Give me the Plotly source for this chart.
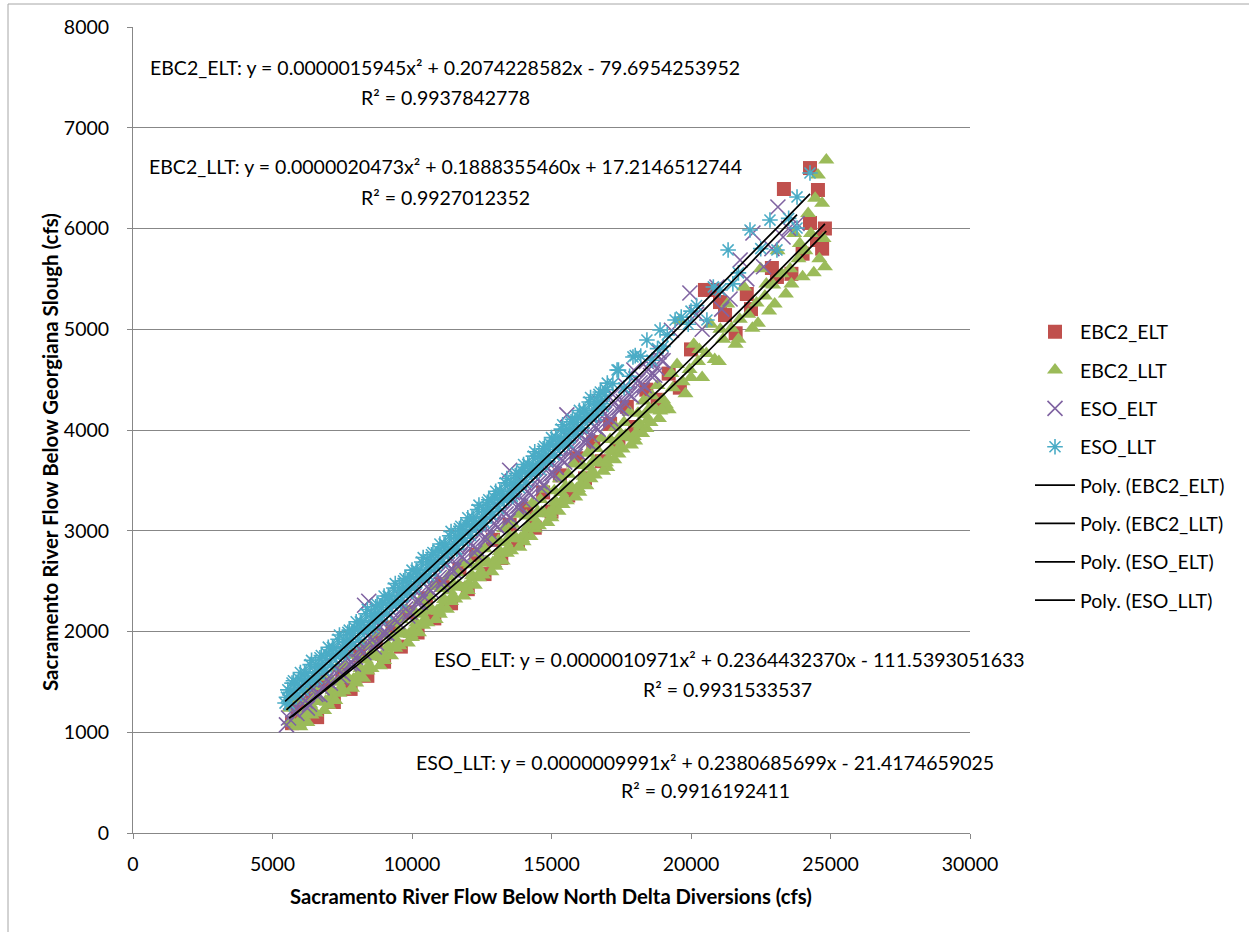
import numpy as np
import plotly.graph_objects as go

# ---------------- data ----------------
EBC2_ELT_POINTS = [
    (5700, 1090), (5900, 1230), (6100, 1160), (6400, 1370), (6600, 1150), (6900, 1480),
    (7200, 1300), (7500, 1600), (7800, 1430), (8100, 1760), (8400, 1560), (8700, 1900),
    (9000, 1700), (9300, 2040), (9600, 1850), (9900, 2190), (10200, 1990), (10500, 2330),
    (10800, 2130), (11100, 2470), (11400, 2280), (11700, 2620), (12000, 2420), (12300, 2760),
    (12600, 2570), (12900, 2910), (13200, 2730), (13500, 3060), (13800, 2880), (14100, 3220),
    (14400, 3030), (14700, 3380), (15000, 3190), (15300, 3550), (15600, 3350), (15900, 3720),
    (16200, 3520), (16500, 3880), (16800, 3690), (17100, 4060), (17400, 3860), (17700, 4230),
    (18000, 4030), (18400, 4400), (18800, 4300), (19200, 4560), (19600, 4420), (20000, 4800),
    (20500, 5390), (20790, 5390), (21040, 5270), (21220, 5141), (21600, 4960), (22000, 5350),
    (22150, 5200), (22900, 5608), (23080, 5519), (23330, 6392), (23600, 5550), (24000, 5750),
    (24265, 6600), (24265, 6055), (24516, 5886), (24550, 6382), (24700, 5800), (24800, 6000),
]

EBC2_LLT_POINTS = [
    (5600, 1239), (5700, 1100), (5800, 1331), (5900, 1093),
    (6000, 1054), (6100, 1305), (6200, 1177), (6300, 1418), (6400, 1170), (6500, 1332),
    (6600, 1453), (6700, 1315), (6800, 1546), (6900, 1308),
    (7000, 1269), (7100, 1521), (7200, 1393), (7300, 1635), (7400, 1387), (7500, 1549),
    (7600, 1671), (7700, 1533), (7800, 1765), (7900, 1527),
    (8000, 1489), (8100, 1741), (8200, 1614), (8300, 1856), (8400, 1609), (8500, 1771),
    (8600, 1893), (8700, 1756), (8800, 1988), (8900, 1751),
    (9000, 1713), (9100, 1965), (9200, 1838), (9300, 2081), (9400, 1834), (9500, 1997),
    (9600, 2119), (9700, 1982), (9800, 2215), (9900, 1978),
    (10000, 1940), (10100, 2193), (10200, 2067), (10300, 2310), (10400, 2063), (10500, 2226),
    (10600, 2350), (10700, 2213), (10800, 2446), (10900, 2209),
    (11000, 2172), (11100, 2426), (11200, 2299), (11300, 2543), (11400, 2297), (11500, 2460),
    (11600, 2584), (11700, 2447), (11800, 2681), (11900, 2445),
    (12000, 2408), (12100, 2662), (12200, 2536), (12300, 2780), (12400, 2534), (12500, 2698),
    (12600, 2822), (12700, 2686), (12800, 2920), (12900, 2684),
    (13000, 2648), (13100, 2902), (13200, 2777), (13300, 3021), (13400, 2776), (13500, 2940),
    (13600, 3065), (13700, 2929), (13800, 3163), (13900, 2928),
    (14000, 2892), (14100, 3147), (14200, 3022), (14300, 3267), (14400, 3021), (14500, 3186),
    (14600, 3311), (14700, 3176), (14800, 3411), (14900, 3175),
    (15000, 3130), (15100, 3396), (15200, 3271), (15300, 3516), (15400, 3261), (15500, 3436),
    (15600, 3562), (15700, 3427), (15800, 3662), (15900, 3417),
    (16000, 3383), (16100, 3648), (16200, 3524), (16300, 3770), (16400, 3515), (16500, 3691),
    (16600, 3816), (16700, 3682), (16800, 3918), (16900, 3673),
    (17000, 3629), (17100, 3905), (17200, 3781), (17300, 4027), (17400, 3763), (17500, 3949),
    (17600, 4075), (17700, 3941), (17800, 4177), (17900, 3923),
    (18000, 3890), (18100, 4166), (18200, 4043), (18300, 4289), (18400, 4016), (18500, 4212),
    (18600, 4339), (18700, 4205), (18800, 4442), (18900, 4188),
    (19000, 4300), (19100, 4250), (19200, 4200), (19300, 4560), (19350, 4420), (19500, 4650),
    (19600, 5090), (19700, 4480), (19800, 4360), (19950, 4600), (20000, 4520), (20100, 4850),
    (20250, 4680), (20300, 4800), (20400, 4520), (20550, 4760), (20700, 5050), (20850, 4700),
    (21000, 4680), (21050, 5000), (21150, 4900), (21300, 5250), (21450, 5010), (21600, 4850),
    (21700, 4900), (21750, 5100), (21900, 5420), (22050, 5150), (22200, 5010), (22350, 5260),
    (22400, 5060), (22500, 5600), (22650, 5330), (22700, 5450), (22800, 5180), (22950, 5440),
    (23000, 5250), (23100, 5780), (23250, 5550), (23400, 5350), (23550, 5600), (23600, 5450),
    (23700, 5950), (23850, 5700), (23900, 5850), (24000, 5520), (24100, 5780), (24200, 6150),
    (24300, 5950), (24400, 5560), (24450, 6300), (24550, 6530), (24600, 5700), (24700, 6250),
    (24750, 5900), (24800, 5620), (24850, 6680),
    # lower edge of the green band
    (5650, 1110), (5750, 1091), (5850, 1060), (5950, 1083),
    (6050, 1115), (6150, 1196), (6250, 1098), (6350, 1279), (6450, 1221), (6550, 1192),
    (6650, 1324), (6750, 1305), (6850, 1217), (6950, 1298),
    (7050, 1330), (7150, 1412), (7250, 1314), (7350, 1496), (7450, 1438), (7550, 1410),
    (7650, 1542), (7750, 1524), (7850, 1436), (7950, 1518),
    (8050, 1550), (8150, 1633), (8250, 1535), (8350, 1717), (8450, 1660), (8550, 1632),
    (8650, 1765), (8750, 1747), (8850, 1659), (8950, 1742),
    (9050, 1774), (9150, 1857), (9250, 1760), (9350, 1942), (9450, 1885), (9550, 1858),
    (9650, 1991), (9750, 1974), (9850, 1886), (9950, 1969),
    (10050, 2002), (10150, 2085), (10250, 1988), (10350, 2172), (10450, 2115), (10550, 2088),
    (10650, 2221), (10750, 2204), (10850, 2118), (10950, 2201),
    (11050, 2234), (11150, 2318), (11250, 2221), (11350, 2405), (11450, 2348), (11550, 2322),
    (11650, 2456), (11750, 2439), (11850, 2353), (11950, 2436),
    (12050, 2470), (12150, 2554), (12250, 2458), (12350, 2642), (12450, 2586), (12550, 2560),
    (12650, 2694), (12750, 2678), (12850, 2592), (12950, 2676),
    (13050, 2710), (13150, 2795), (13250, 2699), (13350, 2884), (13450, 2828), (13550, 2802),
    (13650, 2937), (13750, 2921), (13850, 2836), (13950, 2920),
    (14050, 2955), (14150, 3039), (14250, 2944), (14350, 3129), (14450, 3074), (14550, 3049),
    (14650, 3183), (14750, 3168), (14850, 3083), (14950, 3168),
    (15050, 3203), (15150, 3288), (15250, 3193), (15350, 3379), (15450, 3324), (15550, 3299),
    (15650, 3434), (15750, 3419), (15850, 3335), (15950, 3420),
    (16050, 3456), (16150, 3541), (16250, 3447), (16350, 3632), (16450, 3578), (16550, 3554),
    (16650, 3689), (16750, 3675), (16850, 3590), (16950, 3676),
    (17050, 3712), (17150, 3798), (17250, 3704), (17350, 3890), (17450, 3836), (17550, 3812),
    (17650, 3948), (17750, 3934), (17850, 3850), (17950, 3936),
    (18050, 3973), (18150, 4059), (18250, 3966), (18350, 4152), (18450, 4099), (18550, 4075),
    (18650, 4212), (18750, 4198), (18850, 4115), (18950, 4201),
]

ESO_ELT_POINTS = [
    (5500, 1073), (5650, 1300), (5800, 1207), (5950, 1445), (6100, 1332), (6250, 1240),
    (6400, 1517), (6550, 1375), (6700, 1372), (6850, 1600), (7000, 1507), (7150, 1745),
    (7300, 1633), (7450, 1541), (7600, 1819), (7750, 1677), (7900, 1675), (8050, 1903),
    (8200, 1811), (8300, 2260), (8350, 2050), (8450, 2300), (8500, 1938), (8650, 1846),
    (8800, 2124), (8950, 1983), (9100, 1981), (9250, 2210), (9400, 2118), (9550, 2357),
    (9700, 2245), (9850, 2154), (10000, 2433), (10150, 2291), (10300, 2290), (10450, 2518),
    (10600, 2427), (10750, 2666), (10900, 2556), (11050, 2465), (11200, 2744), (11350, 2603),
    (11500, 2602), (11650, 2831), (11800, 2740), (11950, 2981), (12100, 2870), (12250, 2779),
    (12400, 3059), (12550, 2918), (12700, 2918), (12850, 3147), (13000, 3058), (13150, 3297),
    (13300, 3187), (13450, 3097), (13500, 3600), (13600, 3376), (13750, 3236), (13900, 3236),
    (14050, 3467), (14200, 3377), (14350, 3617), (14500, 3507), (14650, 3417), (14800, 3698),
    (14950, 3558), (15100, 3559), (15250, 3789), (15400, 3699), (15550, 3939), (15550, 4150),
    (15700, 3830), (15850, 3740), (16000, 4023), (16150, 3883), (16300, 3884), (16450, 4114),
    (16600, 4025), (16750, 4266), (16900, 4157), (17050, 4069), (17200, 4350), (17350, 4211),
    (17500, 4212), (17650, 4442), (17800, 4354), (17950, 4596), (18100, 4488), (18250, 4399),
    (18400, 4680), (18550, 4541), (18700, 4543), (18850, 4775), (19000, 4687),
    (19300, 4990), (19960, 5360), (20200, 5150), (20400, 5000), (20930, 5419), (21100, 5200),
    (21400, 5300), (21760, 5687), (22000, 5500), (22220, 5955), (22600, 5620), (22900, 5800),
    (23115, 6213), (23300, 5916), (23500, 6000), (23800, 6050),
    # lower side of the purple band
    (5575, 1141), (5725, 1219), (5875, 1186), (6025, 1353), (6175, 1311), (6325, 1278),
    (6475, 1436), (6625, 1384), (6775, 1441), (6925, 1519), (7075, 1486), (7225, 1654),
    (7375, 1612), (7525, 1580), (7675, 1738), (7825, 1686), (7975, 1744), (8125, 1822),
    (8275, 1790), (8425, 1959), (8575, 1917), (8725, 1885), (8875, 2043), (9025, 1992),
    (9175, 2050), (9325, 2129), (9475, 2097), (9625, 2266), (9775, 2225), (9925, 2193),
    (10075, 2352), (10225, 2301), (10375, 2360), (10525, 2439), (10675, 2408), (10825, 2577),
    (10975, 2536), (11125, 2505), (11275, 2664), (11425, 2614), (11575, 2673), (11725, 2752),
    (11875, 2722), (12025, 2890), (12175, 2850), (12325, 2820), (12475, 2979), (12625, 2929),
    (12775, 2988), (12925, 3068), (13075, 3038), (13225, 3208), (13375, 3168), (13525, 3137),
    (13675, 3297), (13825, 3247), (13975, 3307), (14125, 3387), (14275, 3357), (14425, 3528),
    (14575, 3488), (14725, 3458), (14875, 3618), (15025, 3569), (15175, 3629), (15325, 3710),
    (15475, 3681), (15625, 3851), (15775, 3812), (15925, 3783), (16075, 3943), (16225, 3894),
    (16375, 3955), (16525, 4036), (16675, 4007), (16825, 4178), (16975, 4139), (17125, 4110),
    (17275, 4271), (17425, 4222), (17575, 4283), (17725, 4365), (17875, 4336), (18025, 4507),
    (18175, 4469), (18325, 4440), (18475, 4602), (18625, 4553), (18775, 4615), (18925, 4696),
]

ESO_LLT_POINTS = [
    (5450, 1290), (5500, 1348), (5600, 1283), (5700, 1488), (5800, 1393), (5900, 1478),
    (6000, 1593), (6100, 1418), (6200, 1583), (6300, 1498), (6400, 1713), (6500, 1599),
    (6600, 1534), (6700, 1739), (6800, 1644), (6900, 1729),
    (7000, 1844), (7100, 1669), (7200, 1835), (7300, 1750), (7400, 1965), (7500, 1851),
    (7600, 1786), (7700, 1991), (7800, 1897), (7900, 1982),
    (8000, 2097), (8100, 1923), (8200, 2088), (8300, 2004), (8400, 2219), (8500, 2105),
    (8600, 2040), (8700, 2246), (8800, 2151), (8900, 2237),
    (9000, 2352), (9100, 2178), (9200, 2343), (9300, 2259), (9400, 2475), (9500, 2361),
    (9600, 2296), (9700, 2502), (9800, 2408), (9900, 2493),
    (10000, 2609), (10100, 2435), (10200, 2601), (10300, 2517), (10400, 2733), (10500, 2619),
    (10600, 2555), (10700, 2761), (10800, 2666), (10900, 2752),
    (11000, 2868), (11100, 2694), (11200, 2860), (11300, 2777), (11400, 2993), (11500, 2879),
    (11600, 2815), (11700, 3021), (11800, 2927), (11900, 3013),
    (12000, 3129), (12100, 2955), (12200, 3122), (12300, 3038), (12400, 3254), (12500, 3141),
    (12600, 3077), (12700, 3283), (12800, 3190), (12900, 3276),
    (13000, 3392), (13100, 3219), (13200, 3385), (13300, 3302), (13400, 3518), (13500, 3405),
    (13600, 3341), (13700, 3548), (13800, 3454), (13900, 3541),
    (14000, 3657), (14100, 3484), (14200, 3651), (14300, 3567), (14400, 3784), (14500, 3671),
    (14600, 3608), (14700, 3814), (14800, 3721), (14900, 3808),
    (15000, 3924), (15100, 3751), (15200, 3918), (15300, 3835), (15400, 4052), (15500, 3939),
    (15600, 3875), (15700, 4082), (15800, 3989), (15900, 4076),
    (16000, 4194), (16100, 4021), (16200, 4188), (16300, 4105), (16400, 4322), (16500, 4209),
    (16600, 4146), (16700, 4353), (16800, 4260), (16900, 4347),
    (17000, 4465), (17200, 4460), (17350, 4596), (17400, 4594), (17600, 4419), (17800, 4533),
    (17920, 4725), (18000, 4738), (18200, 4733), (18420, 4893), (18600, 4693), (18800, 4808),
    (18890, 4993), (19000, 4830), (19150, 4944), (19430, 5092), (19650, 5120), (19900, 5050),
    (20000, 5180), (20200, 5235), (20570, 5092), (20800, 5420), (21040, 5390), (21330, 5787),
    (21500, 5450), (21700, 5560), (22115, 5985), (22500, 5800), (22830, 6084), (23080, 5787),
    (23500, 6100), (23800, 6313), (23800, 6005), (24265, 6551),
    # fill of the cyan band
    (5550, 1421), (5650, 1396), (5750, 1511), (5850, 1366), (5950, 1531),
    (6050, 1516), (6150, 1591), (6250, 1516), (6350, 1671), (6450, 1526), (6550, 1671),
    (6650, 1646), (6750, 1761), (6850, 1616), (6950, 1782),
    (7050, 1767), (7150, 1842), (7250, 1767), (7350, 1923), (7450, 1778), (7550, 1923),
    (7650, 1899), (7750, 2014), (7850, 1869), (7950, 2035),
    (8050, 2020), (8150, 2095), (8250, 2021), (8350, 2176), (8450, 2032), (8550, 2177),
    (8650, 2153), (8750, 2268), (8850, 2124), (8950, 2289),
    (9050, 2275), (9150, 2351), (9250, 2276), (9350, 2432), (9450, 2288), (9550, 2434),
    (9650, 2409), (9750, 2525), (9850, 2381), (9950, 2546),
    (10050, 2532), (10150, 2608), (10250, 2534), (10350, 2690), (10450, 2546), (10550, 2692),
    (10650, 2668), (10750, 2784), (10850, 2639), (10950, 2805),
    (11050, 2791), (11150, 2868), (11250, 2794), (11350, 2950), (11450, 2806), (11550, 2952),
    (11650, 2928), (11750, 3044), (11850, 2900), (11950, 3066),
    (12050, 3053), (12150, 3129), (12250, 3055), (12350, 3211), (12450, 3068), (12550, 3214),
    (12650, 3190), (12750, 3307), (12850, 3163), (12950, 3329),
    (13050, 3316), (13150, 3392), (13250, 3319), (13350, 3475), (13450, 3332), (13550, 3478),
    (13650, 3455), (13750, 3571), (13850, 3428), (13950, 3594),
    (14050, 3581), (14150, 3658), (14250, 3584), (14350, 3741), (14450, 3598), (14550, 3744),
    (14650, 3721), (14750, 3838), (14850, 3694), (14950, 3861),
    (15050, 3848), (15150, 3925), (15250, 3852), (15350, 4009), (15450, 3866), (15550, 4012),
    (15650, 3989), (15750, 4106), (15850, 3963), (15950, 4130),
    (16050, 4117), (16150, 4194), (16250, 4121), (16350, 4278), (16450, 4136), (16550, 4283),
    (16650, 4260), (16750, 4377), (16850, 4234), (16950, 4401),
]

SERIES_NAMES = ["EBC2_ELT", "EBC2_LLT", "ESO_ELT", "ESO_LLT"]
SERIES_POINTS = [EBC2_ELT_POINTS, EBC2_LLT_POINTS, ESO_ELT_POINTS, ESO_LLT_POINTS]

# polynomial trendline coefficients (a, b, c) shown on the chart
TREND_COEFS = [
    (0.0000015945, 0.2074228582, -79.6954253952),
    (0.0000020473, 0.1888355460, 17.2146512744),
    (0.0000010971, 0.2364432370, -111.5393051633),
    (0.0000009991, 0.2380685699, -21.4174659025),
]
EQ_TEXT = [
    "EBC2_ELT: y = 0.0000015945x² + 0.2074228582x - 79.6954253952",
    "EBC2_LLT: y = 0.0000020473x² + 0.1888355460x + 17.2146512744",
    "ESO_ELT: y = 0.0000010971x² + 0.2364432370x - 111.5393051633",
    "ESO_LLT: y = 0.0000009991x² + 0.2380685699x - 21.4174659025",
]
R2_TEXT = ["R² = 0.9937842778", "R² = 0.9927012352", "R² = 0.9931533537", "R² = 0.9916192411"]

X_TICKS = [0, 5000, 10000, 15000, 20000, 25000, 30000]
Y_TICKS = [0, 1000, 2000, 3000, 4000, 5000, 6000, 7000, 8000]

# ---------------- styling ----------------
COLORS = ["#C0504D", "#9BBB59", "#8064A2", "#4BACC6"]
SYMBOLS = ["square", "triangle-up", "x-thin", "asterisk"]
SIZES = [14, 14, 15, 13]
FONT = "Lato"
GRID = "#878787"

L, R, T, B = 133, 970, 27, 833
W, H = 1249, 932


def px_x(px):
    return (px - L) / (R - L)


def px_y(py):
    return (B - py) / (B - T)


fig = go.Figure()

for name, pts, col, sym, sz in zip(SERIES_NAMES, SERIES_POINTS, COLORS, SYMBOLS, SIZES):
    xs = [p[0] for p in pts]
    ys = [p[1] for p in pts]
    fig.add_trace(go.Scatter(
        x=xs, y=ys, mode="markers", name=name, legendgroup=name,
        marker=dict(symbol=sym, size=sz, color=col,
                    line=dict(color=col, width=1.6 if sym in ("x-thin", "asterisk") else 0)),
    ))

for name, pts, coefs in zip(SERIES_NAMES, SERIES_POINTS, TREND_COEFS):
    xs = [p[0] for p in pts]
    xl = np.linspace(min(xs), max(xs), 80)
    yl = np.polyval(coefs, xl)
    fig.add_trace(go.Scatter(
        x=xl, y=yl, mode="lines", name=f"Poly. ({name})", legendgroup="poly" + name,
        line=dict(color="black", width=1.7),
    ))

annotations = []
eq_pos = [((445, 67), (445, 97)), ((445, 167), (445, 198)),
          ((729, 659), (727, 689)), ((705, 762), (705, 790))]
for eq, r2, ((x1, y1), (x2, y2)) in zip(EQ_TEXT, R2_TEXT, eq_pos):
    annotations.append(dict(text=eq, x=px_x(x1), y=px_y(y1), xref="paper", yref="paper",
                            showarrow=False, xanchor="center", yanchor="middle",
                            font=dict(family=FONT, size=19.5, color="black")))
    annotations.append(dict(text=r2, x=px_x(x2), y=px_y(y2), xref="paper", yref="paper",
                            showarrow=False, xanchor="center", yanchor="middle",
                            font=dict(family=FONT, size=19.5, color="black")))

annotations.append(dict(text="<b>Sacramento River Flow Below North Delta Diversions (cfs)</b>",
                        x=px_x(551), y=px_y(896), xref="paper", yref="paper", showarrow=False,
                        xanchor="center", yanchor="middle",
                        font=dict(family=FONT, size=20.3, color="black")))
annotations.append(dict(text="<b>Sacramento River Flow Below Georgiana Slough (cfs)</b>",
                        x=px_x(50), y=px_y(452), xref="paper", yref="paper", showarrow=False,
                        xanchor="center", yanchor="middle", textangle=-90,
                        font=dict(family=FONT, size=20.5, color="black")))

shapes = [
    dict(type="line", xref="paper", yref="paper", x0=px_x(8), y0=px_y(4), x1=px_x(1260), y1=px_y(4),
         line=dict(color="#A6A6A6", width=1)),
    dict(type="line", xref="paper", yref="paper", x0=px_x(8), y0=px_y(4), x1=px_x(8), y1=px_y(940),
         line=dict(color="#A6A6A6", width=1)),
]

fig.update_layout(
    width=W, height=H,
    margin=dict(l=L, r=W - R, t=T, b=H - B, pad=0),
    paper_bgcolor="white", plot_bgcolor="white",
    font=dict(family=FONT, color="black"),
    showlegend=True,
    legend=dict(x=px_x(1030), xanchor="left", y=px_y(466), yanchor="middle",
                font=dict(family=FONT, size=19.5, color="black"),
                tracegroupgap=10, itemwidth=40, bgcolor="rgba(0,0,0,0)"),
    annotations=annotations,
    shapes=shapes,
)
fig.update_xaxes(range=[0, 30000], tickvals=X_TICKS, tickformat="d", showgrid=False,
                 showline=True, linecolor=GRID, linewidth=1, ticks="outside", ticklen=5,
                 tickcolor=GRID, tickfont=dict(family=FONT, size=19.5, color="black"),
                 zeroline=False, ticklabelstandoff=9)
fig.update_yaxes(range=[0, 8000], tickvals=Y_TICKS, tickformat="d", showgrid=True,
                 gridcolor=GRID, gridwidth=1, showline=True, linecolor=GRID, linewidth=1,
                 ticks="outside", ticklen=5, tickcolor=GRID,
                 tickfont=dict(family=FONT, size=19.5, color="black"),
                 zeroline=False, ticklabelstandoff=14)

fig.write_html("out.html", config={"displayModeBar": False},
               post_script="document.body.style.margin='0px';")
